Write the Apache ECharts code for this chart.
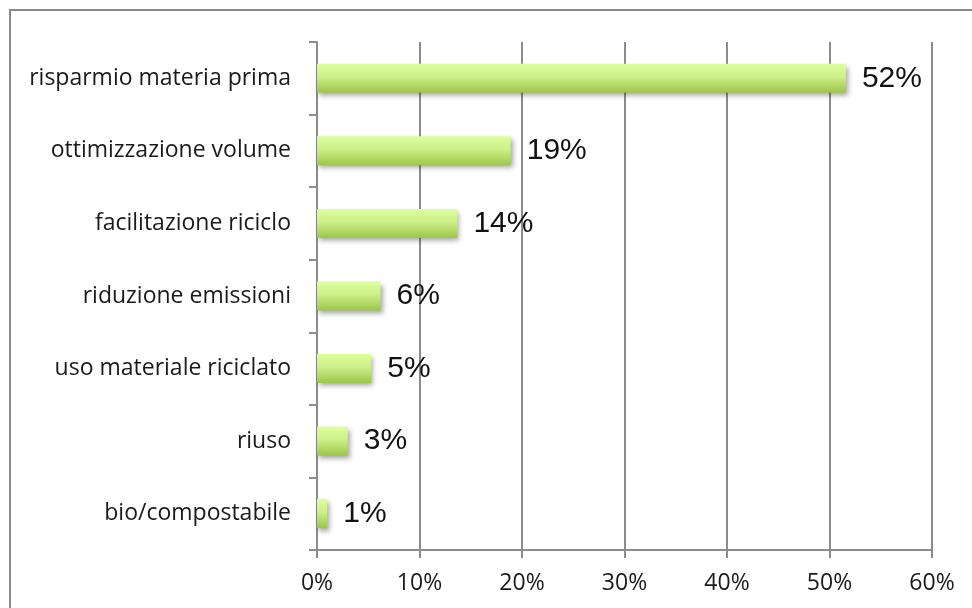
<!DOCTYPE html>
<html>
<head>
<meta charset="utf-8">
<script src="https://cdn.jsdelivr.net/npm/echarts@6/dist/echarts.min.js"></script>
<style>
html,body{margin:0;padding:0;background:#fff;}
#c{width:972px;height:608px;}
</style>
</head>
<body>
<div id="c"></div>
<script>
const categories = ["risparmio materia prima","ottimizzazione volume","facilitazione riciclo","riduzione emissioni","uso materiale riciclato","riuso","bio/compostabile"];
const values = [51.6, 18.9, 13.7, 6.2, 5.3, 3.0, 1.0];
const xTicks = [0, 10, 20, 30, 40, 50, 60];

const chart = echarts.init(document.getElementById('c'), null, {renderer:'canvas'});
const gridColor = '#8c8c8c';
chart.setOption({
  animation:false,
  backgroundColor:'#fff',
  graphic:[{
    type:'rect', shape:{x:10,y:10,width:1100,height:800},
    style:{fill:'none',stroke:'#8a8a8a',lineWidth:2}, z:-1
  }],
  grid:{left:317,right:40,top:42,bottom:58,containLabel:false},
  xAxis:{
    type:'value', min:xTicks[0], max:xTicks[xTicks.length-1], interval:10,
    axisLine:{show:true,lineStyle:{color:gridColor,width:2}},
    axisTick:{show:true,length:8,lineStyle:{color:gridColor,width:2}},
    splitLine:{show:true,lineStyle:{color:gridColor,width:2}},
    axisLabel:{formatter:v=>v+'%',fontFamily:'Open Sans',fontSize:23,color:'#1a1a1a',margin:22}
  },
  yAxis:{
    type:'category', data:categories, inverse:true,
    axisLine:{show:true,lineStyle:{color:gridColor,width:2}},
    axisTick:{show:true,length:8,lineStyle:{color:gridColor,width:2}},
    splitLine:{show:false},
    axisLabel:{fontFamily:'Open Sans',fontSize:23,color:'#1a1a1a',margin:26}
  },
  series:[{
    type:'bar', data:values, barWidth:29,
    itemStyle:{
      color:new echarts.graphic.LinearGradient(0,0,0,1,[
        {offset:0,color:'#dcff9e'},
        {offset:0.45,color:'#cdef88'},
        {offset:1,color:'#9cc64a'}
      ]),
      shadowColor:'rgba(0,0,0,0.35)',shadowBlur:5,shadowOffsetX:2,shadowOffsetY:3
    },
    label:{show:true,position:'right',distance:16,
      formatter:p=>Math.round(p.value)+'%',
      fontFamily:'Liberation Sans',fontSize:30,color:'#111'}
  }]
});
</script>
</body>
</html>
